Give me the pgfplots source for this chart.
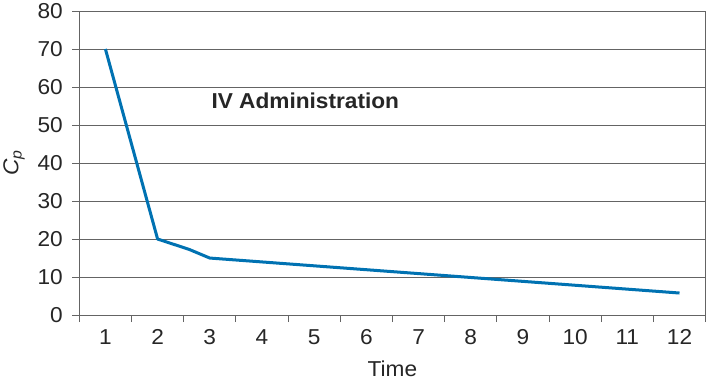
\documentclass[border=0pt]{standalone}
\usepackage{pgfplots}
\pgfplotsset{compat=1.18}
\usepackage{fontspec}
\setmainfont{Liberation Sans}[FakeStretch=1.05]
\definecolor{lineblue}{RGB}{0,114,178}
\definecolor{gridgray}{RGB}{100,100,100}
\begin{document}
\begin{tikzpicture}
\begin{axis}[
  scale only axis,
  width=624bp, height=303bp,
  xmin=0.5, xmax=12.5, ymin=0, ymax=80,
  xtick={1,...,12},
  minor xtick={0.5,1.5,...,12.5},
  ytick={0,10,...,80},
  major x tick style={draw=none},
  minor x tick style={draw=gridgray, line width=0.8pt},
  minor tick length=7bp,
  major tick length=7bp,
  tick align=outside,
  ytick style={draw=gridgray, line width=0.8pt},
  xtick pos=bottom, ytick pos=left,
  ymajorgrids,
  grid style={gridgray, line width=0.8pt},
  axis line style={gridgray, line width=0.8pt},
  /pgf/number format/assume math mode=true,
  tick label style={font=\fontsize{21.5bp}{25bp}\selectfont, text=black!85},
  xticklabel style={yshift=-4bp},
  yticklabel style={xshift=-6bp},
  xlabel={Time},
  ylabel={\textit{C}\textsubscript{\textit{p}}},
  label style={font=\fontsize{21.5bp}{25bp}\selectfont, text=black!85},
  xlabel style={yshift=-9bp},
  ylabel style={yshift=6bp},
]
\addplot[lineblue, line width=3bp, line join=round] coordinates {
  (1,70) (2,20) (2.6,17.3) (3,15) (12,5.8)
};
\node[font=\bfseries\fontsize{21.5bp}{25bp}\selectfont, text=black!85] at (axis cs:4.83,56.5) {IV Administration};
\end{axis}
\end{tikzpicture}
\end{document}
